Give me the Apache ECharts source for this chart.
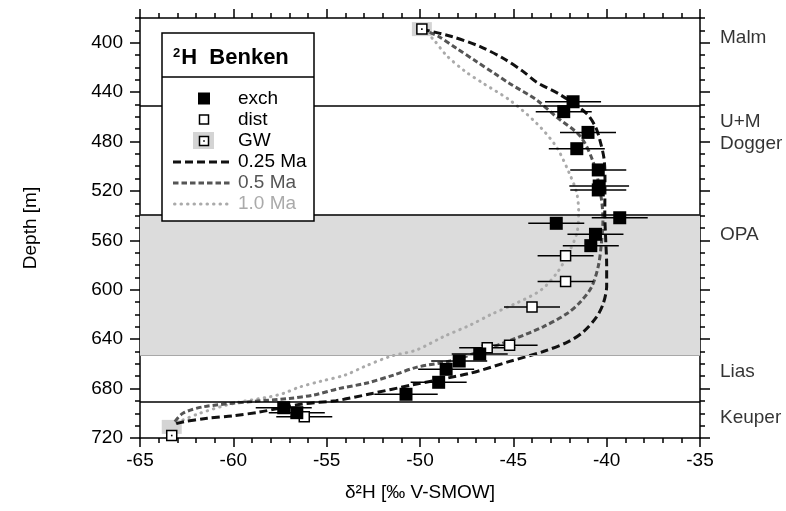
<!DOCTYPE html>
<html>
<head>
<meta charset="utf-8">
<script src="https://cdn.jsdelivr.net/npm/echarts@6/dist/echarts.min.js"></script>
<style>
  html, body { margin: 0; padding: 0; background: #fff; }
  #chart { width: 786px; height: 511px; }
</style>
</head>
<body>
<div id="chart"></div>
<script>
// δ2H profile of pore water, Benken borehole (depth in m, δ2H in ‰ V-SMOW)

// exchange (equilibration) samples
const exchD2H   = [-41.8, -42.3, -41.0, -41.6, -40.45, -40.4, -40.45, -39.3, -42.7, -40.6, -40.85, -46.8, -47.9, -48.6, -49.0, -50.75, -57.3, -56.6];
const exchDepth = [447.8, 455.8, 472.6, 485.8, 503.0, 516.0, 519.2, 541.7, 546.2, 555.1, 564.3, 652.0, 657.7, 664.4, 674.9, 684.6, 695.5, 699.5];
const exchErr   = [1.5, 1.5, 1.5, 1.5, 1.5, 1.6, 1.5, 1.5, 1.5, 1.5, 1.5, 1.5, 1.5, 1.5, 1.5, 1.7, 1.5, 1.5];

// vacuum distillation samples
const distD2H   = [-42.2, -42.2, -44.0, -45.2, -46.4, -56.2];
const distDepth = [572.4, 593.4, 614.0, 645.0, 647.0, 702.7];
const distErr   = [1.5, 1.5, 1.5, 1.5, 1.5, 1.5];

// groundwater in the bounding aquifers
const gwD2H   = [-49.9, -63.3];
const gwDepth = [389.0, 718.0];
// boundary values used by the diffusion model
const gwBoundD2H   = [-49.9, -63.3];
const gwBoundDepth = [389.0, 711.0];

// diffusion model profiles
const m025D2H   = [-49.9, -48.3, -46.8, -45.5, -44.5, -43.75, -42.5, -41.1, -40.6, -40.36, -40.14, -40.09, -40.1, -40.05, -40.0, -40.0, -40.18, -40.54, -41.25, -42.05, -43.4, -45.2, -47.3, -50.4, -52.7, -54.5, -56.3, -58.6, -60.0, -61.4, -62.7, -63.2];
const m025Depth = [389, 395, 403, 413, 423, 432, 442, 457, 468, 479, 494, 511, 538, 560, 580, 597, 611, 622, 634, 642, 650, 658, 667.5, 677, 684.4, 689.8, 692.5, 699, 702, 704, 707, 709];

const m05D2H   = [-49.9, -49.0, -48.0, -47.0, -46.0, -45.2, -43.75, -42.7, -41.4, -40.7, -40.3, -40.2, -40.3, -40.45, -40.8, -41.4, -42.1, -43.4, -45.0, -46.6, -48.4, -50.2, -51.4, -52.9, -54.3, -55.7, -57.0, -59.0, -61.6, -62.7, -63.2];
const m05Depth = [389, 395, 405, 415, 425, 433, 446.4, 460, 476, 497.6, 524.7, 543.5, 565, 581, 597.5, 609.7, 619, 630, 640, 649, 657.7, 662.8, 669, 675.7, 679.8, 685.2, 688, 690.5, 694.7, 700, 708];

const m10D2H   = [-49.9, -49.3, -48.6, -47.6, -46.6, -45.2, -43.75, -42.7, -42.0, -41.6, -41.5, -41.6, -42.05, -42.6, -43.5, -45.0, -46.2, -47.3, -48.75, -50.2, -51.6, -53.0, -54.0, -55.3, -56.5, -57.3, -58.0, -60.0, -61.8, -63.1];
const m10Depth = [389, 397, 410, 423, 433, 446.4, 465.3, 484.2, 505.7, 522, 538, 554.3, 570.5, 585, 600, 612, 620, 628.5, 638, 648.8, 654, 662.3, 669, 674, 679, 683.8, 686.5, 692, 700, 708];

// stratigraphic units and their boundaries
const unitNames      = ['Malm', 'U+M', 'Dogger', 'OPA', 'Lias', 'Keuper'];
const unitLabelDepth = [396.4, 464.0, 481.5, 555.7, 666.0, 704.0];
const unitBoundaries = [451, 539, 691];
const opaTop = 539, opaBottom = 653;

// axes
const xMin = -65, xMax = -35, xStep = 5;
const depthMin = 380, depthMax = 720;
const depthTickLabels = [400, 440, 480, 520, 560, 600, 640, 680, 720];

// legend entries
const seriesNames = ['exch', 'dist', 'GW', '0.25 Ma', '0.5 Ma', '1.0 Ma'];

const FONT = 'Liberation Sans, Arial, Helvetica, sans-serif';
const zip3 = (a, b, c) => a.map((v, i) => [v, b[i], c ? c[i] : 0]);
const zip2 = (a, b) => a.map((v, i) => [v, b[i]]);

const chart = echarts.init(document.getElementById('chart'), null, { renderer: 'canvas' });

const GRID = { left: 140, top: 18, width: 560, height: 420 };

// line styles of the three model curves
const DASH025 = [8, 4], DASH05 = [5.5, 3], DASH10 = [0.5, 6];

function xAxisDef(pos, labels) {
  return {
    type: 'value', position: pos, min: xMin, max: xMax, interval: xStep,
    axisLine: { show: true, onZero: false, lineStyle: { color: '#000', width: 1.5 } },
    axisTick: { show: true, length: 9, lineStyle: { color: '#000', width: 1.5 } },
    minorTick: { show: true, splitNumber: 5, length: 5, lineStyle: { color: '#000', width: 1.5 } },
    splitLine: { show: false },
    axisLabel: { show: labels, fontSize: 19, color: '#000', fontFamily: FONT, margin: 13 },
    name: labels ? 'δ²H [‰ V-SMOW]' : '',
    nameLocation: 'middle', nameGap: 45,
    nameTextStyle: { fontSize: 19, color: '#000', fontFamily: FONT }
  };
}

function yMinorAxis(pos, labels) {
  return {
    type: 'value', position: pos, inverse: true, min: depthMin, max: depthMax, interval: 10,
    axisLine: { show: true, onZero: false, lineStyle: { color: '#000', width: 1.5 } },
    axisTick: { show: true, length: 5, lineStyle: { color: '#000', width: 1.5 } },
    splitLine: { show: false },
    axisLabel: {
      show: labels, fontSize: 19, color: '#000', fontFamily: FONT, margin: 17,
      formatter: v => (depthTickLabels.indexOf(v) >= 0 ? String(v) : '')
    },
    name: labels ? 'Depth [m]' : '',
    nameLocation: 'middle', nameGap: 100, nameRotate: 90,
    nameTextStyle: { fontSize: 19, color: '#000', fontFamily: FONT }
  };
}

function yMajorAxis(pos) {
  return {
    type: 'value', position: pos, inverse: true, min: depthMin, max: depthMax, interval: 10,
    axisLine: { show: false },
    axisTick: { show: true, length: 10, customValues: depthTickLabels, lineStyle: { color: '#000', width: 1.5 } },
    splitLine: { show: false },
    axisLabel: { show: false }
  };
}

// horizontal error bars drawn through the axis scales
function errorBarSeries(name, data) {
  return {
    type: 'custom', name: name + '-err', z: 4, silent: true,
    data: data,
    encode: { x: 0, y: 1 },
    renderItem: (params, api) => {
      const v = api.value(0), d = api.value(1), e = api.value(2);
      const a = api.coord([v - e, d]);
      const b = api.coord([v + e, d]);
      return {
        type: 'line',
        shape: { x1: a[0], y1: a[1], x2: b[0], y2: b[1] },
        style: { stroke: '#000', lineWidth: 1.5 }
      };
    }
  };
}

function modelSeries(name, xs, ys, color, dash, cap) {
  return {
    type: 'line', name: name, z: 3, silent: true,
    data: zip2(xs, ys),
    showSymbol: false, symbol: 'none', smooth: 0.3,
    lineStyle: { color: color, width: 3, type: dash, cap: cap }
  };
}

const legendTop = 33, legendLeft = 162, legendW = 152, legendH = 188;
const itemY = [98.5, 119.5, 140.5, 162, 183, 204];
const markX = 204, lineX1 = 173, lineX2 = 232, textX = 238;

const legendGraphics = [
  { type: 'rect', z: 100, shape: { x: legendLeft, y: legendTop, width: legendW, height: legendH },
    style: { fill: '#fff', stroke: '#000', lineWidth: 1.5 } },
  { type: 'line', z: 101, shape: { x1: legendLeft, y1: 77, x2: legendLeft + legendW, y2: 77 },
    style: { stroke: '#000', lineWidth: 1.5 } },
  { type: 'text', z: 101, x: 173, y: 58,
    style: { text: '{s|2}{h|H  Benken}', verticalAlign: 'middle', fill: '#000',
      rich: {
        s: { fontSize: 13, fontWeight: 'bold', fontFamily: FONT, verticalAlign: 'top', padding: [0, 1, 9, 0] },
        h: { fontSize: 22, fontWeight: 'bold', fontFamily: FONT }
      } } },
  // exch
  { type: 'rect', z: 101, shape: { x: markX - 6, y: itemY[0] - 6, width: 12, height: 12 }, style: { fill: '#000' } },
  // dist
  { type: 'rect', z: 101, shape: { x: markX - 4.5, y: itemY[1] - 4.5, width: 9, height: 9 },
    style: { fill: '#fff', stroke: '#000', lineWidth: 1.5 } },
  // GW
  { type: 'rect', z: 101, shape: { x: markX - 11, y: itemY[2] - 8.5, width: 21, height: 17 }, style: { fill: '#d4d4d4' } },
  { type: 'rect', z: 102, shape: { x: markX - 4.5, y: itemY[2] - 4, width: 9, height: 9 },
    style: { fill: '#fff', stroke: '#000', lineWidth: 1.5 } },
  { type: 'rect', z: 103, shape: { x: markX - 0.8, y: itemY[2] - 0.3, width: 1.6, height: 1.6 }, style: { fill: '#000' } },
  // model lines
  { type: 'line', z: 101, shape: { x1: lineX1, y1: itemY[3], x2: lineX2, y2: itemY[3] },
    style: { stroke: '#111', lineWidth: 3, lineDash: DASH025 } },
  { type: 'line', z: 101, shape: { x1: lineX1, y1: itemY[4], x2: lineX2, y2: itemY[4] },
    style: { stroke: '#555', lineWidth: 3, lineDash: DASH05 } },
  { type: 'line', z: 101, shape: { x1: lineX1 + 1.5, y1: itemY[5], x2: lineX2, y2: itemY[5] },
    style: { stroke: '#aaa', lineWidth: 3, lineDash: DASH10, lineCap: 'round' } }
];
const legendColors = ['#000', '#000', '#000', '#000', '#555', '#aaa'];
seriesNames.forEach((n, i) => {
  legendGraphics.push({
    type: 'text', z: 101, x: textX, y: itemY[i],
    style: { text: n, fill: legendColors[i], fontSize: 19, fontFamily: FONT, verticalAlign: 'middle' }
  });
});

const option = {
  animation: false,
  backgroundColor: '#fff',
  textStyle: { fontFamily: FONT },
  grid: GRID,
  xAxis: [xAxisDef('bottom', true), xAxisDef('top', false)],
  yAxis: [yMinorAxis('left', true), yMajorAxis('left'), yMinorAxis('right', false), yMajorAxis('right')],
  series: [
    // OPA shading and unit boundaries
    {
      type: 'line', name: 'units', data: [], z: 1, silent: true,
      markArea: {
        silent: true,
        itemStyle: { color: '#dcdcdc' },
        data: [[{ yAxis: opaTop }, { yAxis: opaBottom }]]
      },
      markLine: {
        silent: true, symbol: 'none', label: { show: false },
        lineStyle: { color: '#000', width: 1.5, type: 'solid' },
        data: unitBoundaries.map(d => ({ yAxis: d })).concat([
          { yAxis: opaBottom, lineStyle: { color: '#a8a8a8', width: 1, type: 'solid' } }
        ])
      }
    },
    modelSeries(seriesNames[5], m10D2H, m10Depth, '#aaaaaa', DASH10, 'round'),
    modelSeries(seriesNames[4], m05D2H, m05Depth, '#555555', DASH05, 'butt'),
    modelSeries(seriesNames[3], m025D2H, m025Depth, '#111111', DASH025, 'butt'),
    errorBarSeries('dist', zip3(distD2H, distDepth, distErr)),
    errorBarSeries('exch', zip3(exchD2H, exchDepth, exchErr)),
    {
      type: 'scatter', name: seriesNames[1], z: 5, silent: true, clip: false,
      data: zip2(distD2H, distDepth),
      symbol: 'rect', symbolSize: 10,
      itemStyle: { color: '#fff', borderColor: '#000', borderWidth: 1.5, opacity: 1 }
    },
    {
      type: 'scatter', name: seriesNames[0], z: 6, silent: true, clip: false,
      data: zip2(exchD2H, exchDepth),
      symbol: 'rect', symbolSize: 13,
      itemStyle: { color: '#000', opacity: 1 }
    },
    {
      type: 'scatter', name: 'GW boundary', z: 2, silent: true, clip: false,
      data: zip2(gwBoundD2H, gwBoundDepth),
      symbol: 'rect', symbolSize: [20, 14],
      itemStyle: { color: '#d4d4d4', opacity: 1 }
    },
    {
      type: 'custom', name: seriesNames[2], z: 7, silent: true, clip: false,
      data: zip2(gwD2H, gwDepth),
      encode: { x: 0, y: 1 },
      renderItem: (params, api) => {
        const p = api.coord([api.value(0), api.value(1)]);
        return {
          type: 'group',
          children: [
            { type: 'rect', shape: { x: p[0] - 5, y: p[1] - 5, width: 10, height: 10 },
              style: { fill: '#fff', stroke: '#000', lineWidth: 1.5 } },
            { type: 'rect', shape: { x: p[0] - 0.8, y: p[1] - 0.8, width: 1.6, height: 1.6 },
              style: { fill: '#000' } }
          ]
        };
      }
    },
    // unit names to the right of the plot
    {
      type: 'scatter', name: 'unit labels', z: 5, silent: true, clip: false,
      data: unitLabelDepth.map(d => [xMax, d]),
      symbolSize: 0,
      label: {
        show: true, position: 'right', distance: 20,
        formatter: p => unitNames[p.dataIndex],
        fontSize: 19, color: '#000', fontFamily: FONT
      }
    }
  ],
  graphic: legendGraphics
};

chart.setOption(option);
</script>
</body>
</html>
